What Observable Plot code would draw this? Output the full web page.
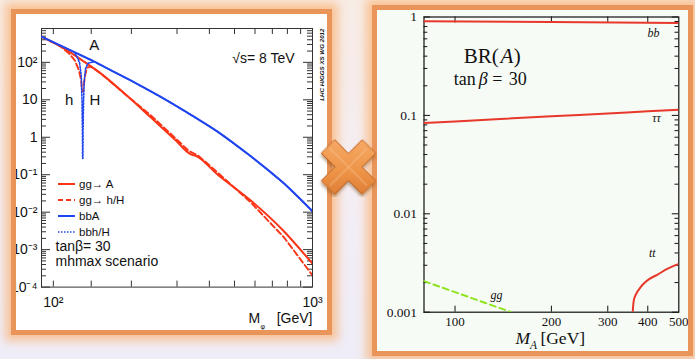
<!DOCTYPE html>
<html><head><meta charset="utf-8">
<script src="https://cdn.jsdelivr.net/npm/d3@7"></script>
<script src="https://cdn.jsdelivr.net/npm/@observablehq/plot@0.6"></script>
<style>
html,body{margin:0;padding:0;}
body{width:695px;height:359px;position:relative;overflow:hidden;
  background:linear-gradient(180deg,#f8ece6 0%,#f3eef5 60%,#efedf8 100%);}
.panel{position:absolute;box-sizing:border-box;border:5px solid #e99459;overflow:hidden;
  box-shadow:0 0 9px 6px rgba(249,176,112,0.7);}
#left{left:11px;top:9px;width:321px;height:326px;background:#fff;}
#right{left:372px;top:5px;width:321px;height:351px;background:#f7fbf6;}
#legend{position:absolute;left:42px;top:162px;font-family:'Liberation Sans',Arial,sans-serif;font-size:11.5px;color:#111;}
#legend .row{height:15.9px;display:flex;align-items:center;}
#legend .row span{margin-left:4px;}
#cross{position:absolute;left:318px;top:137px;}
</style></head><body>
<div id="left" class="panel"></div>
<div id="right" class="panel"></div>
<svg id="cross" width="62" height="60" viewBox="0 0 62 60">
  <defs>
    <linearGradient id="cg" x1="0" y1="0" x2="1" y2="1">
      <stop offset="0" stop-color="#f9b271"/><stop offset="0.55" stop-color="#ee9448"/><stop offset="1" stop-color="#d4722c"/>
    </linearGradient>
    <filter id="sh" x="-30%" y="-30%" width="160%" height="160%"><feDropShadow dx="1.5" dy="2" stdDeviation="1.6" flood-color="#6a3a10" flood-opacity="0.45"/></filter>
  </defs>
  <g transform="translate(30.5,30) rotate(45)" filter="url(#sh)">
    <polygon points="-9.5,-29 9.5,-29 9.5,-9.5 29,-9.5 29,9.5 9.5,9.5 9.5,29 -9.5,29 -9.5,9.5 -29,9.5 -29,-9.5 -9.5,-9.5" fill="url(#cg)" stroke="#c86c2a" stroke-width="0.8"/>
    <path d="M-26,0 L26,0 M0,-26 L0,26" stroke="#fbd0a4" stroke-width="1" opacity="0.55"/>
    <path d="M-9.5,9.5 L-29,9.5 M9.5,9.5 L9.5,29 M9.5,9.5 L29,9.5" stroke="#b95f22" stroke-width="1" opacity="0.5"/>
  </g>
</svg>
<script>
// ================= LEFT PANEL: MSSM cross sections, sqrt(s)=8 TeV, tanβ=30, mhmax =================
// gg -> A (solid red)
const massGgA = [90, 107, 128, 152.7, 194, 238, 297, 336.5, 358, 430, 578, 777, 1000];
const xsGgA   = [484, 262, 118, 50, 12.2, 3.35, 0.817, 0.36, 0.31, 0.101, 0.0205, 0.00306, 0.00042];
// gg -> h/H (dashed red)
const massGgH = [90, 107, 115, 121.2, 125.6, 128.1, 129, 130.2, 132.5, 134.9, 139.8, 146.1, 152.7, 194, 238, 297, 333, 361, 430, 578, 777, 1000];
const xsGgH   = [484, 262, 171, 111, 60, 32.5, 16.6, 16.6, 44, 72, 77, 62, 50, 12.2, 3.8, 0.92, 0.43, 0.33, 0.115, 0.0182, 0.00211, 0.000205];
// bbA (solid blue)
const massBbA = [90, 107.1, 120.5, 143.9, 166.9, 205.3, 276, 339.6, 430, 578, 777, 1000];
const xsBbA   = [484, 275, 187, 104, 61.2, 29.1, 9.4, 3.98, 1.42, 0.311, 0.0582, 0.0106];
// bbh/H (dotted blue)
const massBbH = [90, 107.1, 120.5, 123.4, 126.2, 128.1, 129, 129.5, 129.7, 130.0, 130.2, 130.8, 131.6, 133.1, 136.1, 143.9, 166.9, 205.3, 276, 339.6, 430, 578, 777, 1000];
const xsBbH   = [484, 275, 187, 142, 98, 44, 9.5, 1.5, 0.27, 0.27, 1.5, 9.5, 32.5, 68, 95, 104, 61.2, 29.1, 9.4, 3.98, 1.42, 0.311, 0.0582, 0.0106];

// curve annotations (label, mass, sigma)
const annoLabelsL = ["A", "h", "H"];
const annoMassL   = [143.9, 115, 144.8];
const annoXsL     = [279, 10, 10];

// axis ticks
const yMajorL  = [1e-4, 1e-3, 1e-2, 1e-1, 1, 10, 100];
const xMajorL  = [100, 1000];
const xTicksL  = [100, 140, 200, 300, 400, 500, 600, 700, 800, 900, 1000];

// legend
const legendLabels = ["gg→ A", "gg→ h/H", "bbA", "bbh/H"];

// ================= RIGHT PANEL: BR(A), tanβ = 30 =================
const massBB  = [80, 200, 500];
const brBB    = [0.905, 0.89, 0.87];
const massTau = [80, 100, 200, 300, 400, 500];
const brTau   = [0.0835, 0.0867, 0.098, 0.1045, 0.11, 0.114];
const massTop = [359, 360, 361.6, 365, 370.7, 380, 388.8, 405, 428, 460, 500];
const brTop   = [0.001, 0.00115, 0.00131, 0.00145, 0.0016, 0.0018, 0.00196, 0.00218, 0.0024, 0.00275, 0.0031];
const massGG  = [80, 150];
const brGG    = [0.00207, 0.001];

const annoLabelsR = ["bb", "ττ", "tt", "gg"];
const annoMassR   = [417, 426, 413, 134.8];
const annoBrR     = [0.68, 0.093, 0.00395, 0.00148];

const yMajorR  = [0.001, 0.01, 0.1, 1];
const xMajorR  = [100, 200, 300, 400, 500];
const xTicksR  = [100, 200, 300, 400];

// ---------------- helpers ----------------
const pts = (ms, vs) => ms.map((m, i) => ({m, v: vs[i]}));
const minorDecades = (lo, hi, max) => {
  const out = [];
  for (let e = lo; e <= hi; e++) for (let k = 2; k <= 9; k++) { const v = k * 10 ** e; if (v < max) out.push(v); }
  return out;
};
const SUP = {"-": "⁻", "0": "⁰", "1": "¹", "2": "²", "3": "³", "4": "⁴", "5": "⁵", "6": "⁶", "7": "⁷", "8": "⁸", "9": "⁹"};
const powLabel = d => {
  const e = Math.round(Math.log10(d));
  if (e === 0) return "1";
  if (e === 1) return "10";
  return "10" + String(e).split("").map(c => SUP[c]).join("");
};
const plainLabel = d => String(+d.toPrecision(6));

const red = "#fa3517", blue = "#1f45f0";
const sans = "'Liberation Sans', Arial, Helvetica, sans-serif";
const serif = "'Liberation Serif', 'DejaVu Serif', serif";

// ---------------- left plot ----------------
const L = {W: 340, H: 340, ml: 41, mr: 28, mt: 28, mb: 53.4};
const LfW = L.W - L.ml - L.mr, LfH = L.H - L.mt - L.mb;
const yMinorL = minorDecades(-4, 2, 800);
const tk = "#333";

const leftPlot = Plot.plot({
  width: L.W, height: L.H,
  marginLeft: L.ml, marginRight: L.mr, marginTop: L.mt, marginBottom: L.mb,
  x: {type: "log", domain: [90, 1000], label: null, axis: null},
  y: {type: "log", domain: [1e-4, 800], label: null, axis: null},
  style: {fontFamily: sans, fontSize: "14px", color: "#111", background: "transparent", overflow: "visible"},
  marks: [
    Plot.tickY(yMajorL, {y: d => d, insetRight: LfW - 9, stroke: tk}),
    Plot.tickY(yMajorL, {y: d => d, insetLeft: LfW - 9, stroke: tk}),
    Plot.tickY(yMinorL, {y: d => d, insetRight: LfW - 5, stroke: tk}),
    Plot.tickY(yMinorL, {y: d => d, insetLeft: LfW - 5, stroke: tk}),
    Plot.tickX(xTicksL, {x: d => d, insetTop: LfH - 6, stroke: tk}),
    Plot.tickX(xTicksL, {x: d => d, insetBottom: LfH - 6, stroke: tk}),
    Plot.frame({stroke: tk}),
    Plot.text(yMajorL, {y: d => d, frameAnchor: "left", textAnchor: "end", dx: -4, text: powLabel, fontSize: 14}),
    Plot.text(xMajorL, {x: d => d, frameAnchor: "bottom", lineAnchor: "top", dy: 10, text: powLabel, fontSize: 14}),
    Plot.line(pts(massGgH, xsGgH), {x: "m", y: "v", stroke: red, strokeWidth: 1.9, strokeDasharray: "6,3", clip: true}),
    Plot.line(pts(massGgA, xsGgA), {x: "m", y: "v", stroke: red, strokeWidth: 2, curve: "monotone-x", clip: true}),
    Plot.line(pts(massBbH, xsBbH), {x: "m", y: "v", stroke: blue, strokeWidth: 1.6, strokeDasharray: "1.6,1.6", clip: true}),
    Plot.line(pts(massBbA, xsBbA), {x: "m", y: "v", stroke: blue, strokeWidth: 2, curve: "monotone-x", clip: true}),
    Plot.text(annoLabelsL.map((t, i) => ({t, m: annoMassL[i], v: annoXsL[i]})), {x: "m", y: "v", text: "t", fontSize: 15}),
    Plot.text(["√s= 8 TeV"], {frameAnchor: "top-right", dx: -18, dy: 25, textAnchor: "end", fontSize: 14}),
    Plot.text(["tanβ= 30"], {frameAnchor: "bottom-left", dx: 14, dy: -36.6, textAnchor: "start", fontSize: 14}),
    Plot.text(["mhmax scenario"], {frameAnchor: "bottom-left", dx: 14, dy: -20.8, textAnchor: "start", fontSize: 14}),
    Plot.text(["LHC HIGGS XS WG 2012"], {frameAnchor: "top-right", rotate: -90, textAnchor: "end", dx: 7, dy: 0, fontSize: 6.2, fontWeight: "bold", fontStyle: "italic"}),
    Plot.text(["M"], {frameAnchor: "bottom-right", dx: -64, dy: 35.5, textAnchor: "start", fontSize: 14}),
    Plot.text(["φ"], {frameAnchor: "bottom-right", dx: -52, dy: 41.5, textAnchor: "start", fontSize: 7}),
    Plot.text(["[GeV]"], {frameAnchor: "bottom-right", dx: 0, dy: 35.5, textAnchor: "end", fontSize: 14})
  ]
});
leftPlot.style.position = "absolute";
leftPlot.style.left = "-16px";
leftPlot.style.top = "-14px";
leftPlot.style.maxWidth = "none";
const leftDiv = document.getElementById("left");
leftDiv.appendChild(leftPlot);

// legend overlay
const legendStyles = [
  {stroke: red, dash: null, w: 2},
  {stroke: red, dash: "5,3", w: 2},
  {stroke: blue, dash: null, w: 2},
  {stroke: blue, dash: "1.5,1.5", w: 1.6}
];
const leg = document.createElement("div");
leg.id = "legend";
legendLabels.forEach((lab, i) => {
  const s = legendStyles[i];
  const row = document.createElement("div");
  row.className = "row";
  row.innerHTML = `<svg width="17" height="6" style="display:block"><line x1="0" x2="17" y1="3" y2="3" stroke="${s.stroke}" stroke-width="${s.w}" ${s.dash ? `stroke-dasharray="${s.dash}"` : ""}/></svg><span>${lab}</span>`;
  leg.appendChild(row);
});
leftDiv.appendChild(leg);

// ---------------- right plot ----------------
const R = {W: 335, H: 359, ml: 63.5, mr: 16.7, mt: 16.5, mb: 47.3};
const RfW = R.W - R.ml - R.mr, RfH = R.H - R.mt - R.mb;
const yMinorR = minorDecades(-3, -1, 1);
const rred = "#e8382b", green = "#8fe31e";

const rightPlot = Plot.plot({
  width: R.W, height: R.H,
  marginLeft: R.ml, marginRight: R.mr, marginTop: R.mt, marginBottom: R.mb,
  x: {type: "log", domain: [80, 500], label: null, axis: null},
  y: {type: "log", domain: [0.001, 1], label: null, axis: null},
  style: {fontFamily: serif, fontSize: "13.5px", color: "#111", background: "transparent", overflow: "visible"},
  marks: [
    Plot.tickY(yMajorR, {y: d => d, insetRight: RfW - 6.5, stroke: "#111"}),
    Plot.tickY(yMajorR, {y: d => d, insetLeft: RfW - 6.5, stroke: "#111"}),
    Plot.tickY(yMinorR, {y: d => d, insetRight: RfW - 3.8, stroke: "#111"}),
    Plot.tickY(yMinorR, {y: d => d, insetLeft: RfW - 3.8, stroke: "#111"}),
    Plot.tickX(xTicksR, {x: d => d, insetTop: RfH - 6, stroke: "#111"}),
    Plot.tickX(xTicksR, {x: d => d, insetBottom: RfH - 6, stroke: "#111"}),
    Plot.frame({stroke: "#111", strokeWidth: 1.2}),
    Plot.text(yMajorR, {y: d => d, frameAnchor: "left", textAnchor: "end", dx: -7, text: plainLabel, fontSize: 13.5}),
    Plot.text(xMajorR, {x: d => d, frameAnchor: "bottom", lineAnchor: "top", dy: 5, text: plainLabel, fontSize: 13}),
    Plot.line(pts(massBB, brBB), {x: "m", y: "v", stroke: rred, strokeWidth: 2, clip: true}),
    Plot.line(pts(massTau, brTau), {x: "m", y: "v", stroke: rred, strokeWidth: 2, curve: "monotone-x", clip: true}),
    Plot.line(pts(massTop, brTop), {x: "m", y: "v", stroke: rred, strokeWidth: 2, curve: "monotone-x", clip: true}),
    Plot.line(pts(massGG, brGG), {x: "m", y: "v", stroke: green, strokeWidth: 2, strokeDasharray: "6,4", clip: true}),
    Plot.text(annoLabelsR.map((t, i) => ({t, m: annoMassR[i], v: annoBrR[i]})), {x: "m", y: "v", text: "t", fontStyle: "italic", fontSize: 12}),
    Plot.text(["BR("], {frameAnchor: "top-left", dx: 39.8, dy: 31.5, textAnchor: "start", fontSize: 21}),
    Plot.text(["A"], {frameAnchor: "top-left", dx: 76.5, dy: 31.5, textAnchor: "start", fontSize: 21, fontStyle: "italic"}),
    Plot.text([")"], {frameAnchor: "top-left", dx: 89.8, dy: 31.5, textAnchor: "start", fontSize: 21}),
    Plot.text(["tan"], {frameAnchor: "top-left", dx: 29.8, dy: 55.5, textAnchor: "start", fontSize: 18}),
    Plot.text(["β"], {frameAnchor: "top-left", dx: 54.8, dy: 55.5, textAnchor: "start", fontSize: 18, fontStyle: "italic"}),
    Plot.text(["="], {frameAnchor: "top-left", dx: 68.2, dy: 55.5, textAnchor: "start", fontSize: 18}),
    Plot.text(["30"], {frameAnchor: "top-left", dx: 84.8, dy: 55.5, textAnchor: "start", fontSize: 18}),
    Plot.text(["M"], {frameAnchor: "bottom", dx: -36, dy: 32, textAnchor: "start", fontSize: 17.5, fontStyle: "italic"}),
    Plot.text(["A"], {frameAnchor: "bottom", dx: -21.5, dy: 36.5, textAnchor: "start", fontSize: 11.5, fontStyle: "italic"}),
    Plot.text(["[GeV]"], {frameAnchor: "bottom", dx: -11, dy: 32, textAnchor: "start", fontSize: 17.5})
  ]
});
rightPlot.style.position = "absolute";
rightPlot.style.left = "-17px";
rightPlot.style.top = "-10px";
rightPlot.style.maxWidth = "none";
document.getElementById("right").appendChild(rightPlot);
</script>
</body></html>
